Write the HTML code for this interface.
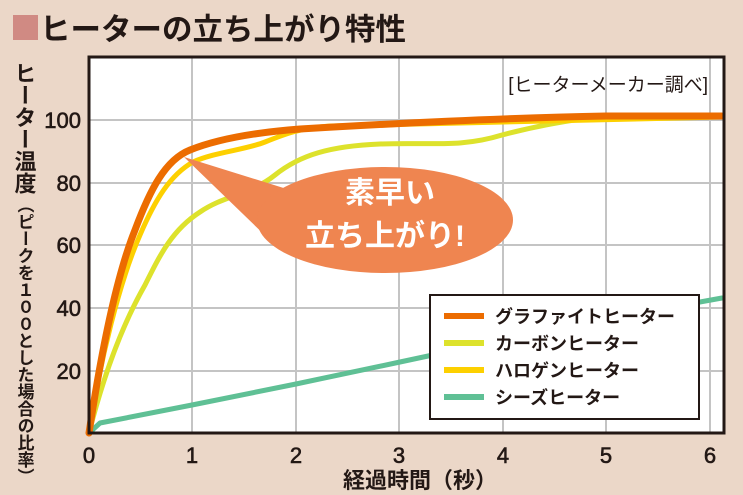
<!DOCTYPE html>
<html><head><meta charset="utf-8"><style>
body{margin:0;background:#ebd7c8;}
svg{display:block;font-family:"Liberation Sans","Noto Sans CJK JP",sans-serif;}
</style></head><body>
<svg width="743" height="495" viewBox="0 0 743 495">
<rect width="743" height="495" fill="#ebd7c8"/>
<rect x="13" y="15" width="25" height="25" fill="#d08a83"/>
<text x="40" y="40" font-size="30.5" font-weight="bold" fill="#231815">ヒーターの立ち上がり特性</text>
<rect x="89" y="57" width="635" height="376" fill="#fff"/>
<g stroke="#c4c4c4" stroke-width="2">
<line x1="192" y1="57" x2="192" y2="433"/><line x1="296" y1="57" x2="296" y2="433"/>
<line x1="399" y1="57" x2="399" y2="433"/><line x1="503" y1="57" x2="503" y2="433"/>
<line x1="606" y1="57" x2="606" y2="433"/><line x1="710" y1="57" x2="710" y2="433"/>
<line x1="89" y1="120" x2="724" y2="120"/><line x1="89" y1="183" x2="724" y2="183"/>
<line x1="89" y1="245" x2="724" y2="245"/><line x1="89" y1="308" x2="724" y2="308"/>
<line x1="89" y1="371" x2="724" y2="371"/>
</g>
<text x="708" y="91" font-size="19" text-anchor="end" fill="#231815">[ヒーターメーカー調べ]</text>
<g fill="none" stroke-linecap="round" stroke-linejoin="round">
<path d="M89,433 L100,423 L192,405 L296,384 L400,362 L503,340 L606,319 L722,298" stroke="#5fc095" stroke-width="5"/>
<path d="M89,433 C105,370 125,320 145,285 C160,255 172,230 200,212 C225,195 250,195 275,175 C300,155 330,146 380,144 C430,142 460,148 502,135 C540,125 580,118 606,117 L722,117" stroke="#dde22c" stroke-width="5"/>
<path d="M89,433 C100,360 120,280 140,235 C155,200 170,175 193,162 C215,152 245,150 265,142 C285,134 300,128 330,126 L722,117" stroke="#fdd000" stroke-width="5"/>
<path d="M89,433 C100,360 115,280 135,230 C150,190 165,160 190,150 C220,138 260,132 300,129 C400,123 500,118 606,116 L722,116" stroke="#ec6c00" stroke-width="7"/>
</g>
<path d="M184,157 L290,190 L275,245 Z" fill="#ef8550"/>
<ellipse cx="385" cy="220" rx="128" ry="53" fill="#ef8550"/>
<text x="390" y="203" font-size="30" font-weight="bold" fill="#fff" text-anchor="middle">素早い</text>
<text x="385" y="246" font-size="30" font-weight="bold" fill="#fff" text-anchor="middle">立ち上がり!</text>
<rect x="89" y="57" width="635" height="376" fill="none" stroke="#231815" stroke-width="3"/>
<rect x="430" y="295" width="269" height="124" fill="#fff" stroke="#231815" stroke-width="2"/>
<g stroke-width="6"><line x1="444" y1="316" x2="484" y2="316" stroke="#ec6c00"/>
<line x1="444" y1="343" x2="484" y2="343" stroke="#dde22c"/>
<line x1="444" y1="370" x2="484" y2="370" stroke="#fdd000"/>
<line x1="444" y1="397" x2="484" y2="397" stroke="#5fc095"/></g>
<g font-size="18" font-weight="bold" fill="#231815">
<text x="495" y="323">グラファイトヒーター</text><text x="495" y="350">カーボンヒーター</text>
<text x="495" y="377">ハロゲンヒーター</text><text x="495" y="404">シーズヒーター</text></g>
<g font-size="22" fill="#231815" text-anchor="end" stroke="#231815" stroke-width="0.6">
<text x="81" y="128">100</text><text x="81" y="191">80</text><text x="81" y="253">60</text>
<text x="81" y="316">40</text><text x="81" y="379">20</text></g>
<g font-size="22" fill="#231815" text-anchor="middle" stroke="#231815" stroke-width="0.6">
<text x="89" y="463">0</text><text x="192" y="463">1</text><text x="296" y="463">2</text>
<text x="399" y="463">3</text><text x="503" y="463">4</text><text x="606" y="463">5</text><text x="710" y="463">6</text></g>
<text x="420" y="488" font-size="22" font-weight="bold" fill="#231815" text-anchor="middle">経過時間（秒）</text>
<text x="24" y="62" font-size="22" font-weight="bold" fill="#231815" style="writing-mode:vertical-rl">ヒーター温度</text>
<text x="24" y="196" font-size="17" font-weight="bold" fill="#231815" style="writing-mode:vertical-rl">（ピークを１００とした場合の比率）</text>
</svg>
</body></html>
